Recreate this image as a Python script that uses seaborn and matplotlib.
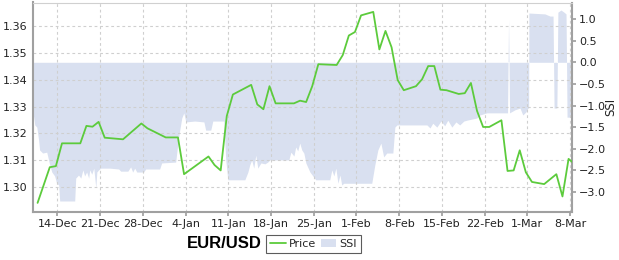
import numpy as np
import pandas as pd
import matplotlib
matplotlib.use("Agg")
import matplotlib.pyplot as plt
import seaborn as sns
from matplotlib.lines import Line2D
from matplotlib.patches import Patch

# ---------------- data ----------------
price_dates = [
    "2012-12-10", "2012-12-12", "2012-12-13", "2012-12-14", "2012-12-17", "2012-12-18",
    "2012-12-19", "2012-12-20", "2012-12-21", "2012-12-24", "2012-12-27", "2012-12-28",
    "2012-12-31", "2013-01-02", "2013-01-03", "2013-01-07", "2013-01-08", "2013-01-09",
    "2013-01-10", "2013-01-11", "2013-01-14", "2013-01-15", "2013-01-16", "2013-01-17",
    "2013-01-18", "2013-01-21", "2013-01-22", "2013-01-23", "2013-01-24", "2013-01-25",
    "2013-01-28", "2013-01-29", "2013-01-30", "2013-01-31", "2013-02-01", "2013-02-03",
    "2013-02-04", "2013-02-05", "2013-02-06", "2013-02-07", "2013-02-08", "2013-02-10",
    "2013-02-11", "2013-02-12", "2013-02-13", "2013-02-14", "2013-02-15", "2013-02-17",
    "2013-02-18", "2013-02-19", "2013-02-20", "2013-02-21", "2013-02-22", "2013-02-24",
    "2013-02-25", "2013-02-26", "2013-02-27", "2013-02-28", "2013-03-01", "2013-03-03",
    "2013-03-05", "2013-03-06", "2013-03-07", "2013-03-08",
]
price_values = [
    1.2941, 1.3074, 1.3078, 1.3163, 1.3163, 1.3228,
    1.3225, 1.3243, 1.3184, 1.3178, 1.3237, 1.3219,
    1.3185, 1.3185, 1.3048, 1.3114, 1.3082, 1.3062,
    1.3265, 1.3345, 1.3381, 1.3308, 1.3290, 1.3376,
    1.3312, 1.3312, 1.3322, 1.3317, 1.3376, 1.3458,
    1.3455, 1.3492, 1.3565, 1.3578, 1.3640, 1.3653,
    1.3513, 1.3582, 1.3521, 1.3399, 1.3361, 1.3376,
    1.3402, 1.3451, 1.3451, 1.3363, 1.3361, 1.3347,
    1.3350, 1.3388, 1.3284, 1.3224, 1.3224, 1.3249,
    1.3060, 1.3062, 1.3137, 1.3055, 1.3019, 1.3011,
    1.3048, 1.2965, 1.3105, 1.3086,
]

# SSI: hours since 2012-12-10 00:00 and sentiment values
ssi_hours = [
    0, 3, 7, 15, 22, 26, 38, 54, 66, 74, 85, 93, 101, 105, 164, 168, 179, 188, 196,
    203, 211, 219, 223, 231, 239, 247, 251, 258, 266, 302, 337, 345, 373, 384, 392,
    400, 408, 435, 443, 498, 506, 561, 569, 577, 585, 593, 601, 636, 672, 679, 699,
    707, 750, 758, 766, 833, 845, 852, 860, 868, 876, 884, 896, 912, 923, 931, 1006,
    1014, 1026, 1033, 1041, 1049, 1057, 1065, 1073, 1089, 1112, 1167, 1175, 1183,
    1191, 1199, 1207, 1214, 1222, 1277, 1332, 1344, 1356, 1368, 1379, 1391, 1415,
    1423, 1431, 1549, 1561, 1572, 1588, 1604, 1619, 1631, 1647, 1663, 1678, 1694,
    1706, 1745, 1757, 1785, 1866, 1870, 1874, 1895, 1915, 1926, 1938, 1946, 1949,
    1950, 2013, 2033, 2045, 2047, 2049, 2060, 2062, 2064, 2076, 2088, 2096, 2098,
    2100, 2111, 2124,
]
ssi_values = [
    -1.22, -1.27, -1.45, -1.50, -1.80, -2.03, -2.10, -2.08, -2.38, -2.54, -2.63, -2.80,
    -2.84, -3.21, -3.21, -2.68, -2.61, -2.68, -2.49, -2.63, -2.54, -2.68, -2.49, -2.59,
    -2.45, -2.91, -2.54, -2.49, -2.45, -2.45, -2.47, -2.52, -2.52, -2.42, -2.54, -2.45,
    -2.54, -2.54, -2.47, -2.47, -2.33, -2.31, -1.91, -1.57, -1.29, -1.17, -1.38, -1.36,
    -1.38, -1.57, -1.57, -1.36, -1.36, -2.26, -2.72, -2.72, -2.54, -2.38, -2.26, -2.45,
    -2.15, -2.45, -2.33, -2.35, -2.31, -2.26, -2.26, -2.08, -2.17, -1.96, -2.05, -1.87,
    -2.03, -2.10, -2.33, -2.54, -2.72, -2.72, -2.49, -2.63, -2.45, -2.80, -2.61, -2.84,
    -2.80, -2.80, -2.80, -2.38, -2.03, -1.87, -2.19, -2.10, -2.10, -1.50, -1.45, -1.45,
    -1.52, -1.41, -1.50, -1.36, -1.47, -1.34, -1.50, -1.38, -1.45, -1.36, -1.34, -1.29,
    -1.22, -1.17, -1.17, 1.00, -1.17, -1.10, -1.06, -1.22, -1.15, -1.06, -1.06,
    1.14, 1.12, 1.07, 1.07, 0.0, -1.06, -1.06, 0.0, 1.16, 1.21, 1.16, 1.12, 0.0,
    -1.27, -1.27, -1.27,
]

x_tick_dates = ["2012-12-14", "2012-12-21", "2012-12-28", "2013-01-04", "2013-01-11",
                "2013-01-18", "2013-01-25", "2013-02-01", "2013-02-08", "2013-02-15",
                "2013-02-22", "2013-03-01", "2013-03-08"]
x_tick_labels = ["14-Dec", "21-Dec", "28-Dec", "4-Jan", "11-Jan", "18-Jan", "25-Jan",
                 "1-Feb", "8-Feb", "15-Feb", "22-Feb", "1-Mar", "8-Mar"]
price_ticks = [1.30, 1.31, 1.32, 1.33, 1.34, 1.35, 1.36]
ssi_ticks = [-3.0, -2.5, -2.0, -1.5, -1.0, -0.5, 0.0, 0.5, 1.0]

# ---------------- style ----------------
GREEN = "#5ccb3c"
SSI_COL = "#d9e0f0"
SPINE = "#a0a0a0"
GRID = "#cfcfcf"

sns.set_theme(style="white")
plt.rcParams['font.family'] = ['DejaVu Sans']

fig = plt.figure(figsize=(6.19, 2.6), dpi=100)
W, H = 619, 260
ax = fig.add_axes([33 / W, 1 - 212 / H, (572.3 - 33) / W, (212 - 2.5) / H])
ax2 = ax.twinx()

start = pd.Timestamp("2012-12-10")
ssi_t = start + pd.to_timedelta(np.array(ssi_hours, dtype=float), unit="h")
ax2.fill_between(ssi_t, 0, ssi_values, color=SSI_COL, lw=0, interpolate=True)

df = pd.DataFrame({"date": pd.to_datetime(price_dates) + pd.Timedelta(hours=18),
                   "price": price_values})
sns.lineplot(data=df, x="date", y="price", ax=ax, color=GREEN, lw=1.3)

ax.set_zorder(ax2.get_zorder() + 1)
ax.patch.set_visible(False)

ax.set_xlim(start, pd.Timestamp("2013-03-08 08:40"))
ax.set_ylim(1.2907, 1.3688)
ax2.set_ylim(-3.465, 1.384)

ax.set_xticks(pd.to_datetime(x_tick_dates))
ax.set_xticklabels(x_tick_labels)
ax.set_yticks(price_ticks)
ax.set_yticklabels([f"{v:.2f}" for v in price_ticks])
ax2.set_yticks(ssi_ticks)
ax2.set_yticklabels([f"{v:.1f}".replace("-", "\u2212") for v in ssi_ticks])

ax.grid(True, linestyle=(0, (2.5, 2.5)), color=GRID, lw=0.8)
ax2.grid(False)
ax.set_xlabel("")
ax.set_ylabel("")
ax2.set_ylabel("SSI", fontsize=8.5, color="#222222")
ax2.yaxis.set_label_coords((604 - 33) / (572.3 - 33), 0.5)

for s in ["left", "bottom"]:
    ax.spines[s].set_color(SPINE)
    ax.spines[s].set_linewidth(1.5)
ax.spines["top"].set_color("#d0d0d0")
ax.spines["top"].set_linewidth(0.8)
ax.spines["right"].set_visible(False)
for s in ["left", "top", "bottom"]:
    ax2.spines[s].set_visible(False)
ax2.spines["right"].set_color(SPINE)
ax2.spines["right"].set_linewidth(1.5)

ax.tick_params(axis="x", length=3, color=SPINE, labelsize=8, pad=2, labelcolor="#222222", bottom=True)
ax.tick_params(axis="y", length=0, labelsize=8, pad=4, labelcolor="#222222")
ax2.tick_params(axis="y", length=3, color=SPINE, labelsize=8, pad=2, labelcolor="#222222", right=True)

fig.text(224.5 / W, 1 - 244 / H, "EUR/USD", ha="center", va="center",
         fontsize=12, fontweight="bold", family="Liberation Sans", color="black")

handles = [Line2D([], [], color=GREEN, lw=1.3), Patch(facecolor=SSI_COL, edgecolor="none")]
leg = fig.legend(handles, ["Price", "SSI"], loc="center", bbox_to_anchor=(313.5 / W, 1 - 244 / H),
                 ncol=2, fontsize=8, frameon=True, fancybox=False, handlelength=1.4,
                 handleheight=0.8, handletextpad=0.3, columnspacing=0.4, borderpad=0.35,
                 borderaxespad=0)
leg.get_frame().set_edgecolor("#333333")
leg.get_frame().set_linewidth(0.8)

fig.savefig("out.png", dpi=100)
